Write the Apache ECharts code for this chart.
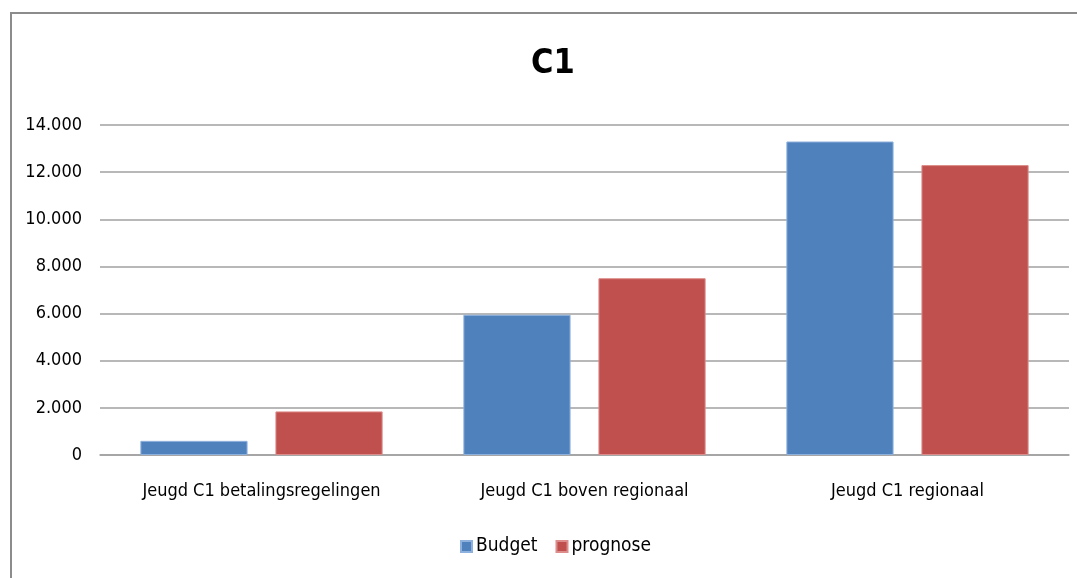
<!DOCTYPE html>
<html>
<head>
<meta charset="utf-8">
<script src="https://cdn.jsdelivr.net/npm/echarts@6/dist/echarts.min.js"></script>
<style>
  html, body { margin: 0; padding: 0; background: #fff; }
  #chart { width: 1077px; height: 578px; }
</style>
</head>
<body>
<div id="chart"></div>
<script>
  // values
  var categories = ['Jeugd C1 betalingsregelingen', 'Jeugd C1 boven regionaal', 'Jeugd C1 regionaal'];
  var budget = [600, 5950, 13300];
  var prognose = [1850, 7500, 12300];

  var font = "'Liberation Sans Narrow', 'DejaVu Sans Condensed', sans-serif";

  function fmt(v) {
    // dutch thousand separator
    return String(v).replace(/\B(?=(\d{3})+(?!\d))/g, '.');
  }

  var myChart = echarts.init(document.getElementById('chart'));
  var option = {
    backgroundColor: '#fff',
    animation: false,
    textStyle: { fontFamily: font },
    title: {
      text: 'C1',
      left: 526,
      top: 42,
      textStyle: { fontFamily: font, fontSize: 34, fontWeight: 'bold', color: '#000' }
    },
    graphic: [{
      type: 'rect',
      shape: { x: 11, y: 13, width: 1100, height: 600 },
      style: { fill: 'none', stroke: '#8c8c8c', lineWidth: 2 },
      silent: true
    }],
    legend: {
      top: 532,
      left: 455,
      itemWidth: 11,
      itemHeight: 11,
      itemGap: 18,
      icon: 'rect',
      textStyle: { fontFamily: font, fontSize: 19, color: '#000', padding: [0, 0, 0, -1] },
      data: ['Budget', 'prognose']
    },
    grid: { left: 100, right: 8, top: 125, bottom: 123, containLabel: false },
    xAxis: {
      type: 'category',
      data: categories,
      axisLine: { lineStyle: { color: '#a0a0a0', width: 1.5 } },
      axisTick: { show: false },
      axisLabel: { fontFamily: font, fontSize: 18, color: '#000', margin: 27, interval: 0 }
    },
    yAxis: {
      type: 'value',
      min: 0,
      max: 14000,
      interval: 2000,
      axisLine: { show: false },
      axisTick: { show: false },
      splitLine: { lineStyle: { color: '#a0a0a0', width: 1.5 } },
      axisLabel: { fontFamily: font, fontSize: 18, color: '#000', margin: 18, formatter: fmt }
    },
    series: [{
      name: 'Budget',
      type: 'bar',
      data: budget,
      barGap: '26%',
      barCategoryGap: '25%',
      itemStyle: { color: '#4F81BD', borderColor: '#8eb0dc', borderWidth: 1 }
    }, {
      name: 'prognose',
      type: 'bar',
      data: prognose,
      itemStyle: { color: '#C0504D', borderColor: '#dc8c8a', borderWidth: 1 }
    }]
  };
  myChart.setOption(option);
</script>
</body>
</html>
